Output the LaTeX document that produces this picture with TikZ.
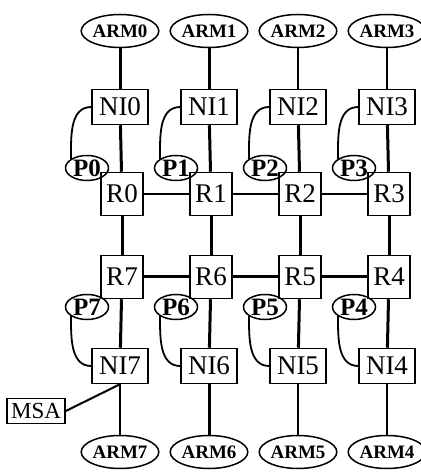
\documentclass[tikz,border=0pt]{standalone}
\usepackage{fontspec}
\setmainfont{Liberation Serif}
\usetikzlibrary{shapes.geometric}
\tikzset{
  nibox/.style={
    rectangle, draw, line width=1.5pt, inner sep=0pt,
    minimum width=56pt, minimum height=35pt,
    font=\fontsize{27}{27}\selectfont
  },
  rbox/.style={
    rectangle, draw, line width=1.5pt, inner sep=0pt,
    minimum width=42pt, minimum height=43pt,
    font=\fontsize{27}{27}\selectfont
  },
  msabox/.style={
    rectangle, draw, line width=1.5pt, inner sep=0pt,
    minimum width=58pt, minimum height=25pt,
    font=\fontsize{23}{23}\selectfont
  },
  armnode/.style={
    ellipse, draw, line width=1.5pt, inner sep=0pt,
    minimum width=71pt, minimum height=33pt,
    font=\fontsize{19}{19}\selectfont\bfseries
  },
  pnode/.style={
    ellipse, draw, line width=1.5pt, inner sep=0pt,
    minimum width=43pt, minimum height=25pt,
    font=\fontsize{25}{25}\selectfont\bfseries
  },
  thicklink/.style={line width=3pt},
  thinlink/.style={line width=2pt},
  plink/.style={line width=1.8pt},
}

\begin{document}
\begin{tikzpicture}[x=1pt,y=1pt]
  \useasboundingbox (0,0) rectangle (420,473);
  % top row: ARM, NI, P, R  -- bottom row numbered backwards
  \foreach \c/\t/\b in {0/0/7,1/1/6,2/2/5,3/3/4} {
    \pgfmathsetmacro\xx{122+89*\c}
    \node[armnode] (arm\t) at (\xx-2,442) {ARM\t};
    \node[nibox]   (ni\t)  at (\xx-2,366) {NI\t};
    \node[pnode]   (p\t)   at (\xx-35,305) {P\t};
    \node[rbox]    (r\t)   at (\xx,279) {R\t};
    \node[rbox]    (r\b)   at (\xx,196) {R\b};
    \node[pnode]   (p\b)   at (\xx-35,166) {P\b};
    \node[nibox]   (ni\b)  at (\xx-2,107) {NI\b};
    \node[armnode] (arm\b) at (\xx-2,21) {ARM\b};
  }
  \node[msabox] (msa) at (36,62) {MSA};

  \foreach \a/\b in {arm0/ni0,arm1/ni1,ni0/r0,ni1/r1,ni2/r2,ni3/r3,
                     r0/r7,r1/r6,r2/r5,r3/r4,r7/r6,r6/r5,r5/r4,
                     r7/ni7,r6/ni6,r5/ni5,r4/ni4,ni6/arm6}
    \draw[thicklink] (\a) -- (\b);
  \foreach \a/\b in {arm2/ni2,arm3/ni3,r0/r1,r1/r2,r2/r3,
                     ni7/arm7,ni5/arm5,ni4/arm4}
    \draw[thinlink] (\a) -- (\b);
  \draw[thinlink] (msa.east) -- (ni7.south);

  \foreach \t/\b in {0/7,1/6,2/5,3/4} {
    \draw[plink] (ni\t.west) to[out=180,in=90] (p\t.150);
    \draw[plink] (p\b.210) to[out=-90,in=180] (ni\b.west);
  }
\end{tikzpicture}
\end{document}
